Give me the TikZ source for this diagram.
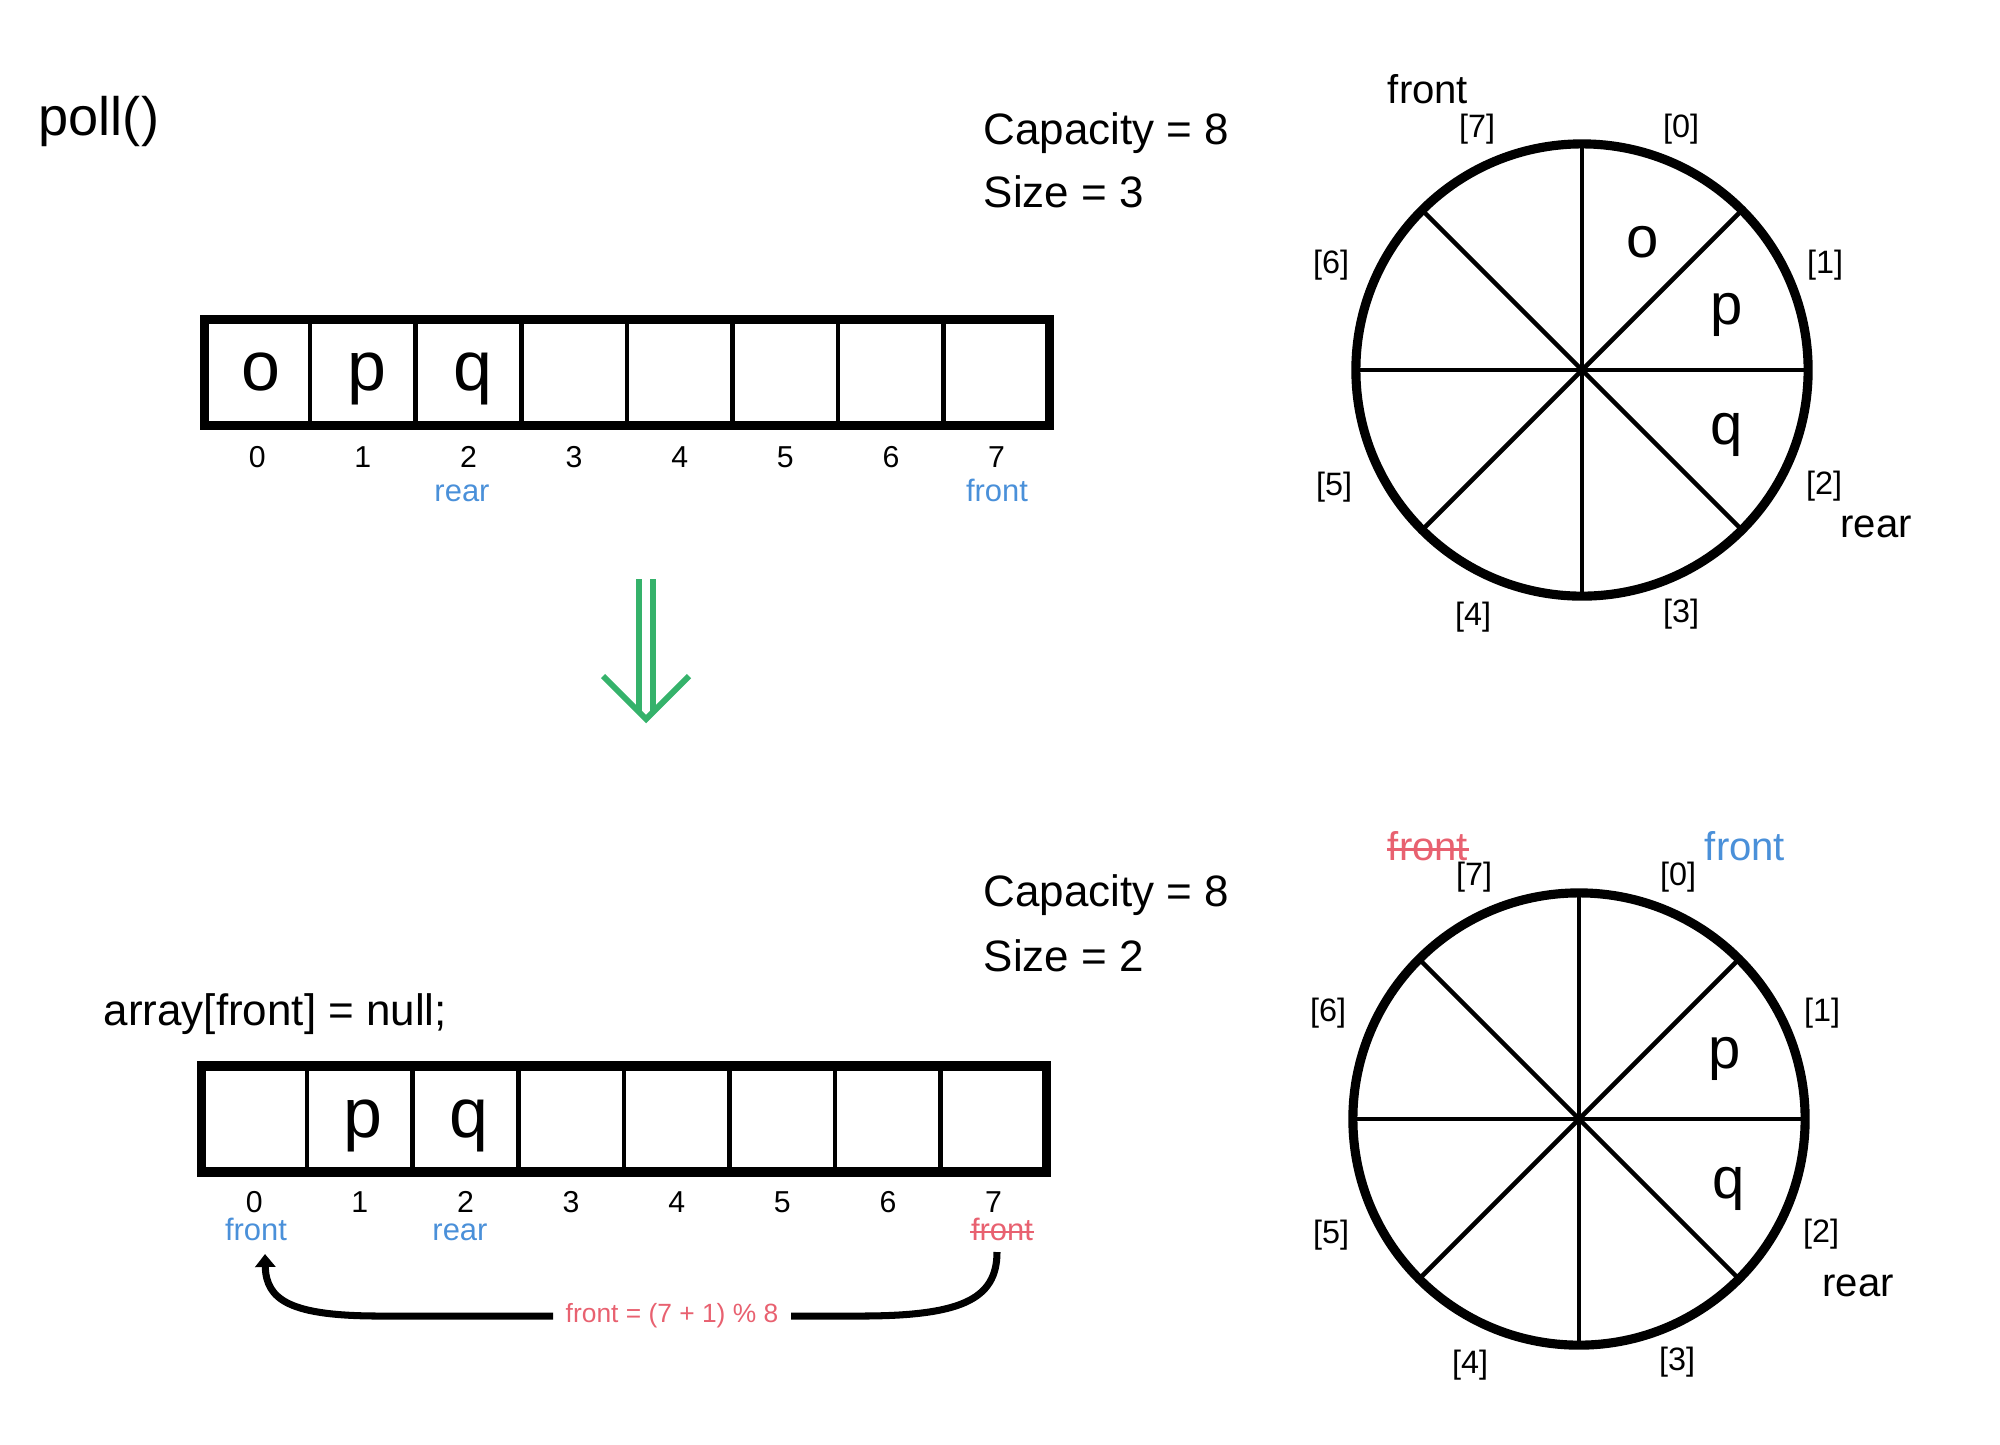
\documentclass[tikz,border=0pt]{standalone}
\usepackage{fontspec}
\setmainfont{Liberation Sans}
\usetikzlibrary{arrows.meta,calc}
\definecolor{qblue}{RGB}{74,144,217}
\definecolor{qred}{RGB}{232,97,112}
\definecolor{qgreen}{RGB}{53,178,107}
\newcommand{\myfs}[1]{\fontsize{#1pt}{#1pt}\selectfont}
\begin{document}
\begin{tikzpicture}[x=0.01cm,y=-0.01cm,
  cell/.style={draw, line width=1.3pt, minimum width=1.056cm, minimum height=1.06cm, inner sep=0pt, outer sep=0pt},
  frame/.style={draw, line width=2.6pt},
  bigl/.style={font=\myfs{19.9}, inner sep=0pt, anchor=base},
  ringl/.style={font=\myfs{16.5}, inner sep=0pt, anchor=base},
  idx/.style={font=\myfs{8.6}, inner sep=0pt, anchor=base},
  tag/.style={font=\myfs{8.8}, inner sep=0pt, anchor=base, text=qblue},
  redtag/.style={font=\myfs{8.8}, inner sep=0pt, anchor=base, text=qred},
  slot/.style={font=\myfs{9.2}, inner sep=0pt},
  info/.style={font=\myfs{12.5}, inner sep=0pt, anchor=base west},
  ringtag/.style={font=\myfs{11.4}, inner sep=0pt, anchor=base},
  wheel/.style={draw, circle, line width=2.6pt, minimum size=4.52cm, inner sep=0pt, outer sep=0pt},
  spoke/.style={line width=1.3pt},
  strike/.style={qred, line width=0.7pt},
  garrow/.style={qgreen, line width=1.7pt},
  curve/.style={line width=2pt}
]
\useasboundingbox (0,0) rectangle (2000,1444);

% ---------- top part ----------
\node[font=\myfs{15.4}, inner sep=0pt, anchor=base west] (title) at (38,135) {poll()};
\node[info] (cap1) at (983,144) {Capacity = 8};
\node[info] (size1) at (983,207) {Size = 3};

\foreach \k in {0,...,7} \node[cell] (t\k) at ({257.3+105.6*\k},372.5) {};
\draw[frame] (t0.north west) rectangle (t7.south east);
\node[bigl] (to) at ($(t0.center)+(4,18)$) {o};
\node[bigl] (tp) at ($(t1.center)+(4,18)$) {p};
\node[bigl] (tq) at ($(t2.center)+(4,18)$) {q};
\foreach \k in {0,...,7} \node[idx] (ti\k) at ({257.3+105.6*\k},467) {\k};
\node[tag] (trear) at (462,501) {rear};
\node[tag] (tfront) at (997,501) {front};

\node[wheel] (w1) at (1582,370) {};
\foreach \a/\b in {0/180,45/225,90/270,135/315} \draw[spoke] (w1.\a) -- (w1.\b);
\foreach \s/\dx/\dy in {0/99/-241, 1/243/-105, 2/242/116, 3/99/244, 4/-109/247, 5/-248/117, 6/-251/-105, 7/-105/-241}
  \node[slot] (w1s\s) at ($(w1.center)+(\dx,\dy)$) {[\s]};
\node[ringl] (w1o) at ($(w1.center)+(61,-113)$) {o};
\node[ringl] (w1p) at ($(w1.center)+(145,-46)$) {p};
\node[ringl] (w1q) at ($(w1.center)+(145,74)$) {q};
\node[ringtag] (w1front) at (1428,103) {front};
\node[ringtag] (w1rear) at (1876,537) {rear};

% ---------- green arrow ----------
\draw[garrow] (639,579) -- (639,712);
\draw[garrow] (653,579) -- (653,712);
\draw[garrow, line join=miter] (603,676) -- (646,719) -- (689,676);

% ---------- bottom part ----------
\node[info] (cap2) at (983,906) {Capacity = 8};
\node[info] (size2) at (983,971) {Size = 2};
\node[info] (code) at (103,1025) {array[front] = null;};

\foreach \k in {0,...,7} \node[cell] (b\k) at ({254.3+105.6*\k},1119) {};
\draw[frame] (b0.north west) rectangle (b7.south east);
\node[bigl] (bp) at ($(b1.center)+(3,18)$) {p};
\node[bigl] (bq) at ($(b2.center)+(3,18)$) {q};
\foreach \k in {0,...,7} \node[idx] (bi\k) at ({254.3+105.6*\k},1212) {\k};
\node[tag] (bfront) at (256,1240) {front};
\node[tag] (brear) at (460,1240) {rear};
\node[redtag] (boldfront) at (1002,1240) {front};
\draw[strike] ([yshift=2.3pt]boldfront.base west) -- ([yshift=2.3pt]boldfront.base east);

\node[wheel] (w2) at (1579,1119) {};
\foreach \a/\b in {0/180,45/225,90/270,135/315} \draw[spoke] (w2.\a) -- (w2.\b);
\foreach \s/\dx/\dy in {0/99/-242, 1/243/-106, 2/242/115, 3/98/243, 4/-109/246, 5/-248/116, 6/-251/-106, 7/-105/-242}
  \node[slot] (w2s\s) at ($(w2.center)+(\dx,\dy)$) {[\s]};
\node[ringl] (w2p) at ($(w2.center)+(146,-51)$) {p};
\node[ringl] (w2q) at ($(w2.center)+(150,79)$) {q};
\node[ringtag, text=qred] (w2oldfront) at (1428,860) {front};
\draw[strike] ([yshift=3pt]w2oldfront.base west) -- ([yshift=3pt]w2oldfront.base east);
\node[ringtag, text=qblue] (w2front) at (1745,860) {front};
\node[ringtag] (w2rear) at (1858,1296) {rear};

% ---------- curved arrow ----------
\coordinate (s) at (997,1252);
\coordinate (e) at (265,1254);
\node[font=\myfs{7.5}, text=qred, inner xsep=0.12cm, inner ysep=0pt] (lab) at (672,1316) {front = (7 + 1) \% 8};
\draw[curve] (s) .. controls (997,1300) and (960,1316) .. (860,1316) -- (lab.east);
\draw[curve, -{Triangle[width=0.2cm,length=0.13cm]}] (lab.west) -- (380,1316) .. controls (290,1316) and (266,1300) .. (e);
\end{tikzpicture}
\end{document}
